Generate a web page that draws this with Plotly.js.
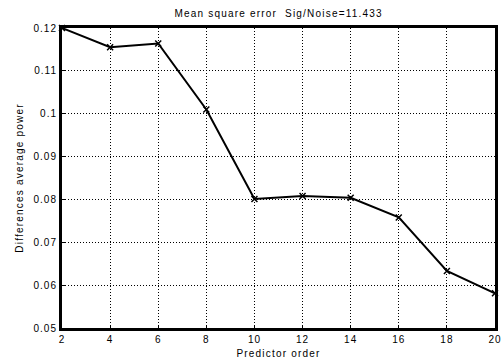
<!DOCTYPE html>
<html><head><meta charset="utf-8">
<script src="https://cdn.plot.ly/plotly-3.0.1.min.js"></script>
<style>html,body{margin:0;padding:0;background:#fff}#c{width:502px;height:360px}
#c svg text{letter-spacing:1px}
#c svg .gtitle{letter-spacing:1.2px}
#c svg .xtitle, #c svg .ytitle{letter-spacing:1.2px}
</style>
</head><body><div id="c"></div>
<script>
const order = [2, 4, 6, 8, 10, 12, 14, 16, 18, 20];
const mse = [0.1200, 0.1155, 0.1164, 0.1010, 0.0801, 0.0808, 0.0804, 0.0758, 0.0633, 0.0581];
const xTicks = [2, 4, 6, 8, 10, 12, 14, 16, 18, 20];
const yTicks = [0.05, 0.06, 0.07, 0.08, 0.09, 0.1, 0.11, 0.12];
const yTickText = ["0.05", "0.06", "0.07", "0.08", "0.09", "0.1", "0.11", "0.12"];

const font = {family: "Liberation Sans, Arial, sans-serif", size: 10, color: "#000"};
Plotly.newPlot("c", [{
  x: order, y: mse, type: "scatter", mode: "lines+markers",
  line: {color: "#000", width: 2},
  marker: {symbol: "x-thin", size: 6, color: "#000", line: {color: "#000", width: 1.5}},
  cliponaxis: false
}], {
  width: 502, height: 360,
  margin: {l: 62, r: 7, t: 28, b: 32},
  paper_bgcolor: "#fff", plot_bgcolor: "#fff",
  font: font,
  showlegend: false,
  title: {text: "Mean square error  Sig/Noise=11.433", font: {family: font.family, size: 10, color: "#000"}, x: 0.555, xanchor: "center", y: 0.962, yanchor: "middle"},
  xaxis: {
    range: [2, 20], tickvals: xTicks, ticktext: xTicks.map(String),
    showgrid: true, gridcolor: "#000", griddash: "1px,2px", gridwidth: 1,
    showline: true, linecolor: "#000", linewidth: 3, mirror: true,
    ticks: "inside", ticklen: 3, tickcolor: "#000", zeroline: false,
    tickfont: font,
    title: {text: "Predictor order", font: font, standoff: 6}
  },
  yaxis: {
    range: [0.05, 0.12], tickvals: yTicks, ticktext: yTickText,
    showgrid: true, gridcolor: "#000", griddash: "1px,2px", gridwidth: 1,
    showline: true, linecolor: "#000", linewidth: 3, mirror: true,
    ticks: "inside", ticklen: 3, tickcolor: "#000", zeroline: false,
    tickfont: font,
    title: {text: "Differences average power", font: font, standoff: 13}
  }
}, {displayModeBar: false, staticPlot: true});
</script></body></html>
